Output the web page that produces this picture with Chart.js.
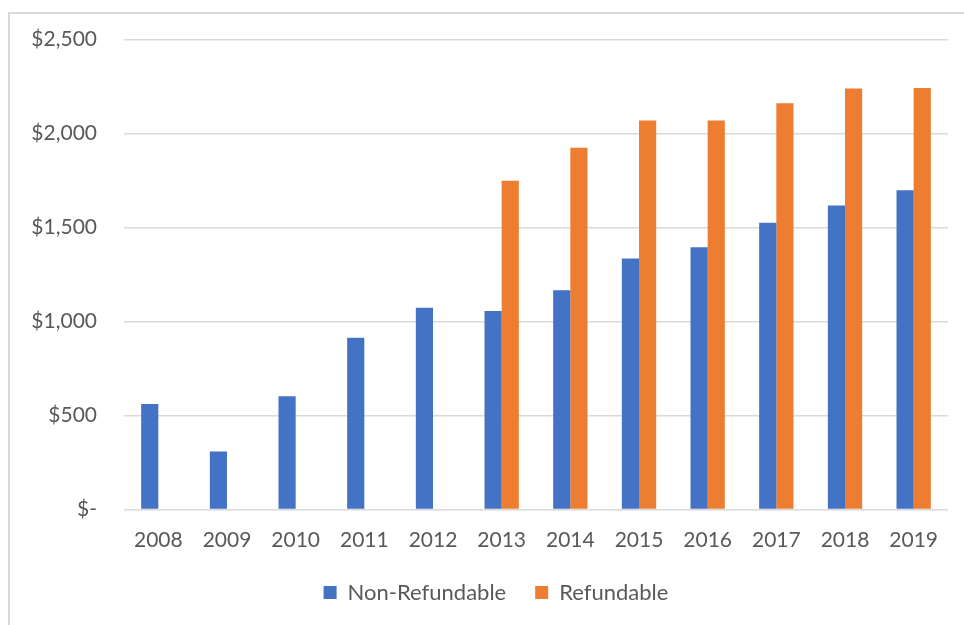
<!DOCTYPE html>
<html>
<head>
<meta charset="utf-8">
<script src="https://cdn.jsdelivr.net/npm/chart.js@4"></script>
<style>
  html, body { margin: 0; padding: 0; background: #fff; }
  #wrap { position: relative; width: 964px; height: 625px; overflow: hidden; }
  #frame { position: absolute; left: 8px; top: 12px; width: 1000px; height: 700px;
           border-left: 2px solid #d9d9d9; border-top: 2px solid #d9d9d9; box-sizing: border-box; }
  canvas { position: absolute; left: 0; top: 0; }
</style>
</head>
<body>
<div id="wrap">
  <div id="frame"></div>
  <canvas id="chart" width="964" height="625"></canvas>
</div>
<script>
// Annual credit amounts by year
const years = ['2008', '2009', '2010', '2011', '2012', '2013', '2014', '2015', '2016', '2017', '2018', '2019'];
const nonRefundable = [561, 308, 603, 914, 1074, 1056, 1167, 1336, 1395, 1526, 1618, 1698];
const refundable = [null, null, null, null, null, 1749, 1924, 2069, 2069, 2162, 2240, 2243];
const yTickValues = [0, 500, 1000, 1500, 2000, 2500];
const yTickLabels = ['$-', '$500', '$1,000', '$1,500', '$2,000', '$2,500'];

const FONT = 'Lato, "Open Sans", sans-serif';
const TEXT = '#595959';

// Nudge the legend row to the right of the canvas centre
const legendOffset = {
  id: 'legendOffset',
  afterLayout(chart) {
    if (chart.legend) chart.legend.left += 44;
  }
};

new Chart(document.getElementById('chart'), {
  type: 'bar',
  data: {
    labels: years,
    datasets: [
      { label: 'Non-Refundable', data: nonRefundable, backgroundColor: '#4472C4',
        categoryPercentage: 0.5, barPercentage: 1.0 },
      { label: 'Refundable', data: refundable, backgroundColor: '#ED7D31',
        categoryPercentage: 0.5, barPercentage: 1.0 }
    ]
  },
  plugins: [legendOffset],
  options: {
    responsive: false,
    animation: false,
    devicePixelRatio: 1,
    layout: { padding: { left: 0, right: 16, top: 37, bottom: 11.5 } },
    plugins: {
      tooltip: { enabled: false },
      legend: {
        position: 'bottom',
        labels: {
          font: { family: FONT, size: 22 },
          color: TEXT,
          boxWidth: 13,
          boxHeight: 13,
          padding: 29
        }
      }
    },
    scales: {
      x: {
        afterFit: (s) => { s.height = 43; },
        grid: { display: false, drawTicks: false },
        border: { display: false },
        ticks: { font: { family: FONT, size: 21 }, color: TEXT, padding: 18 }
      },
      y: {
        min: 0,
        max: 2500,
        afterFit: (s) => { s.width = 124; },
        afterBuildTicks: (s) => { s.ticks = yTickValues.map(v => ({ value: v })); },
        grid: { color: '#d9d9d9', lineWidth: 1.5, drawTicks: false },
        border: { display: false },
        ticks: {
          font: { family: FONT, size: 21 },
          color: TEXT,
          padding: 27,
          callback: (v) => yTickLabels[yTickValues.indexOf(v)]
        }
      }
    }
  }
});
</script>
</body>
</html>
